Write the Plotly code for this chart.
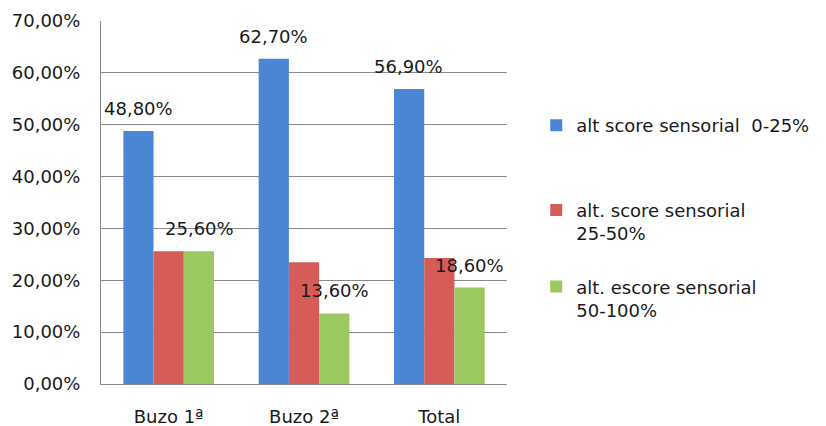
import plotly.graph_objects as go

categories = ["Buzo 1ª", "Buzo 2ª", "Total"]
series_names = ["alt score sensorial  0-25%", "alt. score sensorial<br>25-50%", "alt. escore sensorial<br>50-100%"]
blue_vals = [48.8, 62.7, 56.9]
red_vals = [25.6, 23.5, 24.3]
green_vals = [25.6, 13.6, 18.6]
colors = ["#4A86D4", "#D65C57", "#9CC95F"]

# which labels are shown: (series index, category index)
shown_labels = [(0, 0), (0, 1), (0, 2), (2, 0), (2, 1), (2, 2)]

FONT = "DejaVu Sans"
TXT = "#1a1a1a"
fig = go.Figure()
all_vals = [blue_vals, red_vals, green_vals]
legend_ids = ["legend", "legend2", "legend3"]
for i, (name, vals) in enumerate(zip(series_names, all_vals)):
    fig.add_trace(go.Bar(x=categories, y=vals, name=name, marker_color=colors[i],
                         marker_line_width=0, legend=legend_ids[i]))

offsets = [-30.5, 0, 30.5]
for si, ci in shown_labels:
    v = all_vals[si][ci]
    fig.add_annotation(x=categories[ci], y=v, xref="x", yref="y", xshift=offsets[si],
                       yshift=10, yanchor="bottom", showarrow=False,
                       text=f"{v:.2f}".replace(".", ",") + "%",
                       font=dict(family=FONT, size=18, color=TXT))

leg_common = dict(x=1.072, xanchor="left", yanchor="middle", valign="top",
                  font=dict(family=FONT, size=18, color=TXT),
                  itemwidth=30, bgcolor="rgba(0,0,0,0)")
fig.update_layout(
    width=826, height=426,
    margin=dict(l=101, r=316, t=21, b=42),
    plot_bgcolor="white", paper_bgcolor="white",
    barmode="group", bargap=0.33, bargroupgap=0,
    separators=",.",
    font=dict(family=FONT, size=18, color=TXT),
    legend=dict(y=0.712, **leg_common),
    legend2=dict(y=0.447, **leg_common),
    legend3=dict(y=0.236, **leg_common),
    showlegend=True,
)
fig.update_yaxes(range=[0, 70], dtick=10, tickformat=".2f", ticksuffix="%",
                 showgrid=True, gridcolor="#8a8a8a", gridwidth=1,
                 showline=True, linecolor="#8a8a8a", linewidth=1,
                 ticklabelstandoff=16, zeroline=False, automargin=False)
fig.update_xaxes(showline=True, linecolor="#8a8a8a", linewidth=1,
                 ticklabelstandoff=16, showgrid=False, automargin=False)

fig.write_html("out.html")
